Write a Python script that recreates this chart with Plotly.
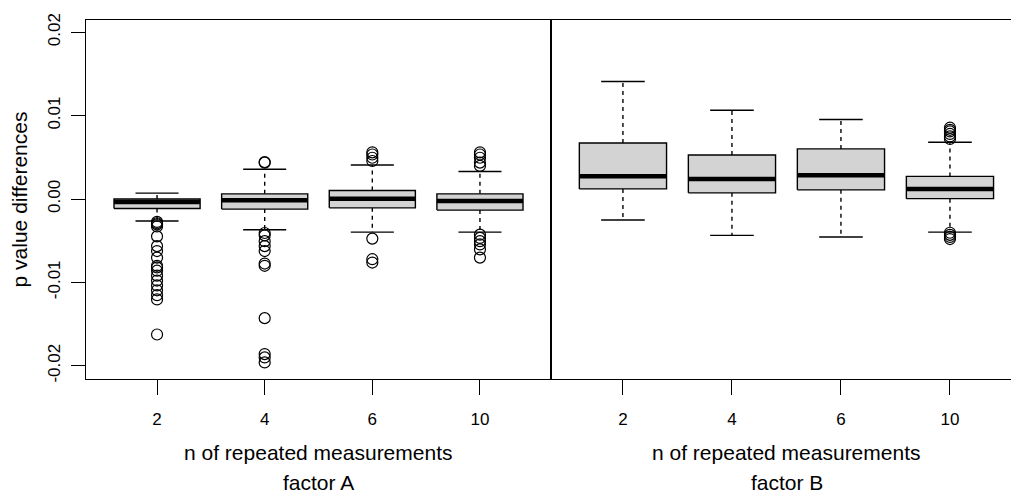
import plotly.graph_objects as go

# ---------------- data ----------------
categories = ["2", "4", "6", "10"]

A_q1 = [-0.00114, -0.00121, -0.00106, -0.00133]
A_med = [-0.00035, -0.00015, 0.00004, -0.00024]
A_q3 = [0.00000, 0.00062, 0.00102, 0.00062]
A_lo = [-0.00263, -0.00369, -0.00397, -0.00397]
A_hi = [0.00071, 0.00357, 0.00408, 0.00330]
A_out = [
    [-0.00275, -0.00291, -0.00305, -0.00330, -0.00448, -0.00565, -0.00624, -0.00703,
     -0.00801, -0.00821, -0.00860, -0.00919, -0.00978, -0.01037, -0.01095, -0.01154,
     -0.01205, -0.01625],
    [0.00436, 0.00444, -0.00408, -0.00436, -0.00506, -0.00565, -0.00624, -0.00774,
     -0.00801, -0.01429, -0.01860, -0.01900, -0.01960],
    [0.00456, 0.00495, 0.00534, 0.00560, -0.00475, -0.00722, -0.00762],
    [0.00397, 0.00436, 0.00495, 0.00534, 0.00560, -0.00428, -0.00467, -0.00506,
     -0.00545, -0.00604, -0.00703],
]

B_q1 = [0.00121, 0.00074, 0.00110, 0.00004]
B_med = [0.00274, 0.00239, 0.00286, 0.00121]
B_q3 = [0.00671, 0.00527, 0.00601, 0.00271]
B_lo = [-0.00251, -0.00436, -0.00456, -0.00397]
B_hi = [0.01410, 0.01064, 0.00954, 0.00680]
B_out = [
    [],
    [],
    [],
    [0.00720, 0.00750, 0.00780, 0.00810, 0.00830, 0.00855,
     -0.00405, -0.00430, -0.00455, -0.00480],
]

y_tickvals = [-0.02, -0.01, 0.0, 0.01, 0.02]
y_ticktext = ["-0.02", "-0.01", "0.00", "0.01", "0.02"]

# ---------------- figure ----------------
W, H = 1011, 495
FONT = "Liberation Sans, Arial, Helvetica, sans-serif"
BOXW = 0.8      # box width in category units
CAPW = 0.4      # staple width
LW = 1.4

fig = go.Figure()


def add_panel(xa, ya, q1, med, q3, lo, hi, outs):
    pos = list(range(1, len(categories) + 1))
    wx, wy = [], []
    cx, cy = [], []
    bx, by = [], []
    mx, my = [], []
    ox, oy = [], []
    for i, p in enumerate(pos):
        wx += [p, p, None, p, p, None]
        wy += [q3[i], hi[i], None, q1[i], lo[i], None]
        cx += [p - CAPW / 2, p + CAPW / 2, None, p - CAPW / 2, p + CAPW / 2, None]
        cy += [hi[i], hi[i], None, lo[i], lo[i], None]
        bx += [p - BOXW / 2, p + BOXW / 2, p + BOXW / 2, p - BOXW / 2, p - BOXW / 2, None]
        by += [q1[i], q1[i], q3[i], q3[i], q1[i], None]
        mx += [p - BOXW / 2, p + BOXW / 2, None]
        my += [med[i], med[i], None]
        ox += [p] * len(outs[i])
        oy += list(outs[i])
    common = dict(xaxis=xa, yaxis=ya, showlegend=False, hoverinfo="skip")
    fig.add_trace(go.Scatter(x=wx, y=wy, mode="lines",
                             line=dict(color="black", width=LW, dash="4px,4px"), **common))
    fig.add_trace(go.Scatter(x=bx, y=by, mode="lines", fill="toself", fillcolor="#D3D3D3",
                             line=dict(color="black", width=LW), **common))
    fig.add_trace(go.Scatter(x=mx, y=my, mode="lines",
                             line=dict(color="black", width=4.5), **common))
    fig.add_trace(go.Scatter(x=cx, y=cy, mode="lines",
                             line=dict(color="black", width=LW), **common))
    fig.add_trace(go.Scatter(x=ox, y=oy, mode="markers",
                             marker=dict(symbol="circle-open", size=11, color="black",
                                         line=dict(color="black", width=1.2)), **common))


add_panel("x", "y", A_q1, A_med, A_q3, A_lo, A_hi, A_out)
add_panel("x2", "y2", B_q1, B_med, B_q3, B_lo, B_hi, B_out)

ydom = [1 - 380 / H, 1 - 14 / H]
yrange = [-0.0216, 0.0215]
tickfont = dict(family=FONT, size=17, color="black")

xcommon = dict(tickvals=[1, 2, 3, 4], ticktext=categories, ticks="outside", ticklen=15,
               tickwidth=LW, tickcolor="black", showline=True, linewidth=LW,
               linecolor="black", mirror=True, showgrid=False, zeroline=False,
               tickfont=tickfont, ticklabelstandoff=9)

fig.update_layout(
    width=W, height=H,
    margin=dict(l=0, r=0, t=0, b=0),
    paper_bgcolor="white", plot_bgcolor="white",
    xaxis=dict(domain=[86 / W, 551 / W], range=[0.34, 4.66], anchor="y", **xcommon),
    xaxis2=dict(domain=[551 / W, 1.0], range=[0.34, 4.56], anchor="y2", **xcommon),
    yaxis=dict(domain=ydom, range=yrange, anchor="x", tickvals=y_tickvals,
               ticktext=y_ticktext, tickangle=-90, ticks="outside", ticklen=14,
               tickwidth=LW, tickcolor="black", showline=True, linewidth=LW,
               linecolor="black", mirror=True, showgrid=False, zeroline=False,
               tickfont=tickfont, ticklabelstandoff=4),
    yaxis2=dict(domain=ydom, range=yrange, anchor="x2", showticklabels=False,
                ticks="", showline=True, linewidth=LW, linecolor="black",
                mirror=False, showgrid=False, zeroline=False),
)

tfont = dict(family=FONT, size=21, color="black")
ann = [
    ("n of repeated measurements", 318.5, 455, 0),
    ("factor A", 318.5, 485, 0),
    ("n of repeated measurements", 786.5, 455, 0),
    ("factor B", 786.5, 485, 0),
    ("p value differences", 19, 197, -90),
]
for text, xp, yp, ang in ann:
    fig.add_annotation(text=text, xref="paper", yref="paper", x=xp / W, y=1 - yp / H,
                       xanchor="center", yanchor="middle", showarrow=False,
                       textangle=ang, font=tfont)

fig.write_html("out.html")
